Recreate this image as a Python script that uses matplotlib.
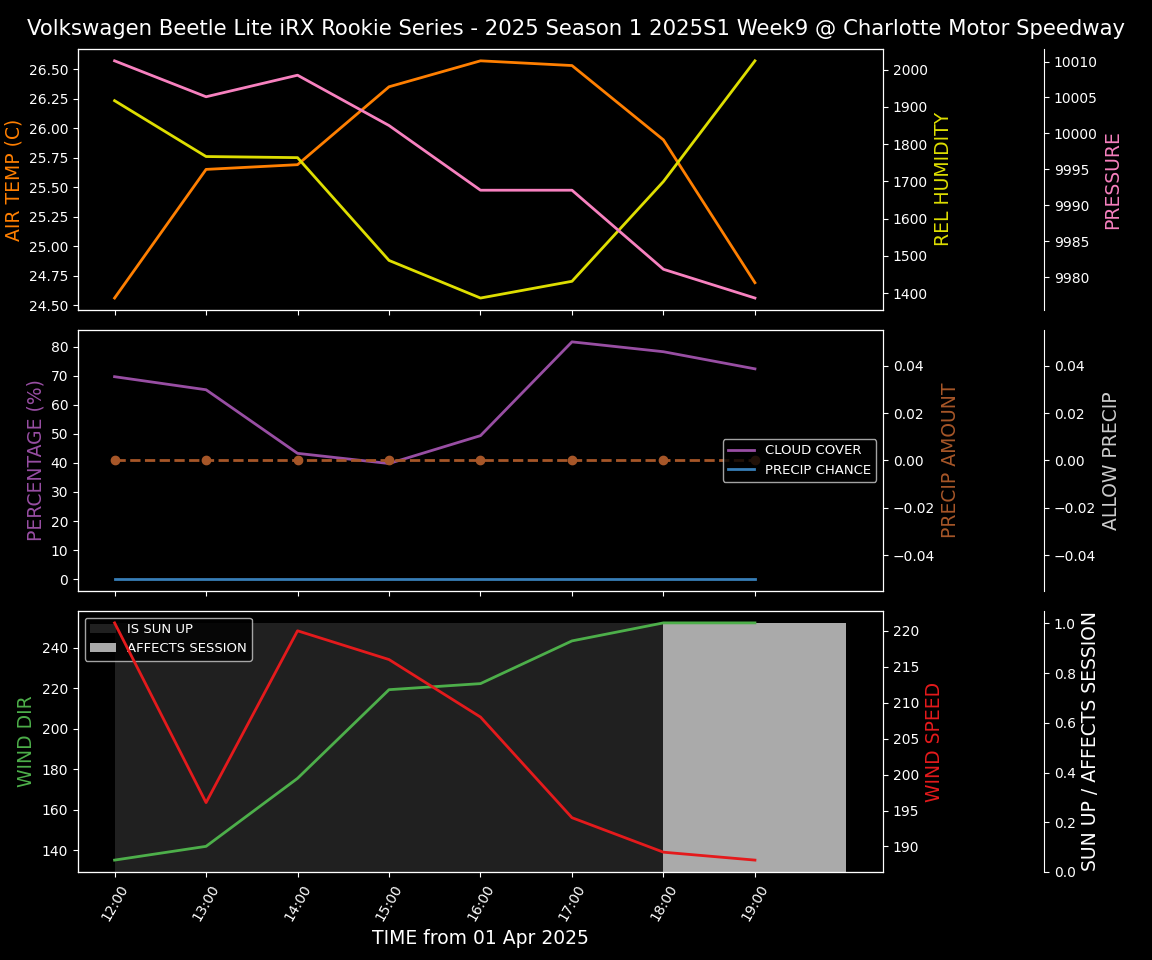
import matplotlib
matplotlib.use("Agg")
import matplotlib.pyplot as plt
import matplotlib.dates as mdates
import pandas as pd
import numpy as np

plt.style.use("dark_background")

title = "Volkswagen Beetle Lite iRX Rookie Series - 2025 Season 1 2025S1 Week9 @ Charlotte Motor Speedway"

times = pd.date_range("2025-04-01 12:00", periods=8, freq="h")
air_temp = [24.56, 25.65, 25.69, 26.35, 26.57, 26.53, 25.90, 24.69]
rel_humidity = [1917, 1767, 1764, 1488, 1387, 1432, 1700, 2024]
pressure = [10010.1, 10005.1, 10008.1, 10001.1, 9992.1, 9992.1, 9981.1, 9977.1]
cloud_cover = [69.7, 65.2, 43.3, 39.8, 49.4, 81.7, 78.3, 72.4]
precip_chance = [0, 0, 0, 0, 0, 0, 0, 0]
precip_amount = [0, 0, 0, 0, 0, 0, 0, 0]
wind_dir = [135.1, 141.9, 175.5, 219.3, 222.3, 243.4, 252.3, 252.3]
wind_speed = [221.1, 196.1, 220.0, 216.0, 208.0, 194.0, 189.2, 188.1]

# hourly steps 12:00 .. 20:00 for the shaded bands
band_times = pd.date_range("2025-04-01 12:00", periods=9, freq="h")
sun_up = [1, 1, 1, 1, 1, 1, 0, 0, 0]
affects_session = [0, 0, 0, 0, 0, 0, 1, 1, 1]

fig, (ax1, ax2, ax3) = plt.subplots(3, 1, figsize=(11.52, 9.6), dpi=100, sharex=True)
fig.subplots_adjust(left=0.0677, right=0.7665, top=0.949, bottom=0.0917, hspace=0.077)
fig.suptitle(title, fontsize=15.3, y=0.98)

lab = 13.5

# --- panel 1: temp / humidity / pressure
ax1.plot(times, air_temp, color="#ff7f00", lw=2)
ax1.set_ylabel("AIR TEMP (C)", color="#ff7f00", fontsize=lab)
ax1b = ax1.twinx()
ax1b.plot(times, rel_humidity, color="#dede00", lw=2)
ax1b.set_ylabel("REL HUMIDITY", color="#dede00", fontsize=lab)
ax1c = ax1.twinx()
ax1c.spines["right"].set_position(("axes", 1.2))
ax1c.plot(times, pressure, color="#f781bf", lw=2)
ax1c.set_ylabel("PRESSURE", color="#f781bf", fontsize=lab)

# --- panel 2: cloud / precip
l1, = ax2.plot(times, cloud_cover, color="#984ea3", lw=2, label="CLOUD COVER")
l2, = ax2.plot(times, precip_chance, color="#377eb8", lw=2, label="PRECIP CHANCE")
ax2.set_ylabel("PERCENTAGE (%)", color="#984ea3", fontsize=lab)
ax2b = ax2.twinx()
ax2b.plot(times, precip_amount, color="#a65628", lw=2, ls="--", marker="o")
ax2b.set_ylabel("PRECIP AMOUNT", color="#a65628", fontsize=lab)
ax2c = ax2.twinx()
ax2c.spines["right"].set_position(("axes", 1.2))
ax2c.set_ylim(-0.055, 0.055)
ax2c.set_ylabel("ALLOW PRECIP", color="#cccccc", fontsize=lab)
ax2c.legend([l1, l2], ["CLOUD COVER", "PRECIP CHANCE"], loc="center right", fontsize=9.5)

# --- panel 3: wind / sun
ax3c = ax3.twinx()
ax3c.spines["right"].set_position(("axes", 1.2))
ax3c.fill_between(band_times, sun_up, step="post", color="#202020", lw=0, label="IS SUN UP")
ax3c.fill_between(band_times, affects_session, step="post", color="#aaaaaa", lw=0, label="AFFECTS SESSION")
ax3c.set_ylim(0, 1.05)
ax3c.set_ylabel("SUN UP / AFFECTS SESSION", color="white", fontsize=lab)
ax3c.legend(loc="upper left", fontsize=9.5)

ax3.set_zorder(ax3c.get_zorder() + 1)
ax3.patch.set_visible(False)
ax3.plot(times, wind_dir, color="#4daf4a", lw=2)
ax3.set_ylabel("WIND DIR", color="#4daf4a", fontsize=lab)
ax3b = ax3.twinx()
ax3b.plot(times, wind_speed, color="#e41a1c", lw=2)
ax3b.set_ylabel("WIND SPEED", color="#e41a1c", fontsize=lab)

ax3.set_xticks(times)
ax3.xaxis.set_major_formatter(mdates.DateFormatter("%H:%M"))
plt.setp(ax3.get_xticklabels(), rotation=60)
ax3.set_xlabel("TIME from 01 Apr 2025", fontsize=lab)

fig.savefig("out.png", dpi=100)
